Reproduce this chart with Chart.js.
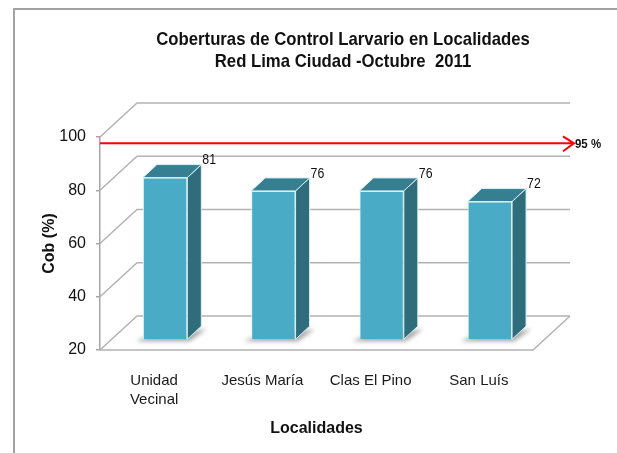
<!DOCTYPE html>
<html>
<head>
<meta charset="utf-8">
<script src="https://cdn.jsdelivr.net/npm/chart.js@4.4.1/dist/chart.umd.min.js"></script>
<style>
  body { margin: 0; background: #fff; }
  #wrap { position: relative; width: 617px; height: 453px; overflow: hidden; }
  #frame { position: absolute; left: 13px; top: 8px; right: -10px; bottom: -10px;
           border-top: 2px solid #a3a3a3; border-left: 2px solid #a3a3a3; }
  canvas { position: absolute; left: 0; top: 0; }
</style>
</head>
<body>
<div id="wrap">
  <div id="frame"></div>
  <canvas id="chart" width="617" height="453"></canvas>
</div>
<script>
// datos
const localidades = [['Unidad', 'Vecinal'], 'Jesús María', 'Clas El Pino', 'San Luís'];
const coberturas = [81, 76, 76, 72];
const yTicks = [20, 40, 60, 80, 100];
const metaValor = 95;
const metaTexto = '95 %';
const tituloLineas = ['Coberturas de Control Larvario en Localidades', 'Red Lima Ciudad -Octubre  2011'];

const FONT = '"Liberation Sans", Arial, sans-serif';
const DEPTH = { x: 37, y: -34 };    // profundidad del piso / pared del fondo
const BAR_OFF = { x: 11, y: -10 };  // las barras van un poco detrás del borde frontal
const BAR_SIDE = { x: 14, y: -13 }; // grosor 3D de cada barra
const NARROW = 0.88;                // texto "condensado" (no hay Arial Narrow)

function textoAngosto(ctx, txt, x, y) {
  ctx.save();
  ctx.translate(x, y);
  ctx.scale(NARROW, 1);
  ctx.fillText(txt, 0, 0);
  ctx.restore();
}

// pared, piso y grilla en perspectiva + caras 3D de las barras
const efecto3D = {
  id: 'efecto3D',
  beforeDatasetsDraw(chart) {
    const { ctx, chartArea: a, scales: { y } } = chart;
    ctx.save();
    ctx.strokeStyle = '#b3b3b3';
    ctx.lineWidth = 1.5;
    yTicks.forEach(v => {
      const py = y.getPixelForValue(v);
      ctx.beginPath();
      ctx.moveTo(a.left, py);
      ctx.lineTo(a.left + DEPTH.x, py + DEPTH.y);
      ctx.lineTo(a.right + DEPTH.x, py + DEPTH.y);
      ctx.stroke();
    });
    // piso
    ctx.beginPath();
    ctx.moveTo(a.left, a.bottom);
    ctx.lineTo(a.right, a.bottom);
    ctx.lineTo(a.right + DEPTH.x, a.bottom + DEPTH.y);
    ctx.stroke();

    // sombras en el piso
    const bars = chart.getDatasetMeta(0).data;
    ctx.filter = 'blur(2px)';
    ctx.fillStyle = 'rgba(0,0,0,0.35)';
    bars.forEach(bar => {
      const p = bar.getProps(['x', 'base', 'width'], true);
      const l = p.x - p.width / 2 + BAR_OFF.x;
      const r = p.x + p.width / 2 + BAR_OFF.x;
      const b = p.base + BAR_OFF.y;
      ctx.beginPath();
      ctx.moveTo(l - 7, b + 2);
      ctx.lineTo(r + 2, b + 2);
      ctx.lineTo(r + BAR_SIDE.x + 5, b + BAR_SIDE.y + 3);
      ctx.lineTo(l + 4, b - 3);
      ctx.closePath();
      ctx.fill();
    });
    ctx.filter = 'none';
    ctx.restore();

    ctx.save();
    ctx.translate(BAR_OFF.x, BAR_OFF.y);
  },
  afterDatasetsDraw(chart) {
    const { ctx } = chart;
    ctx.restore();
    const bars = chart.getDatasetMeta(0).data;
    ctx.save();
    ctx.lineWidth = 1;
    ctx.strokeStyle = '#d9eff5';
    bars.forEach((bar, i) => {
      const p = bar.getProps(['x', 'y', 'base', 'width'], true);
      const l = p.x - p.width / 2 + BAR_OFF.x;
      const r = p.x + p.width / 2 + BAR_OFF.x;
      const t = p.y + BAR_OFF.y;
      const b = p.base + BAR_OFF.y;
      // lado
      ctx.fillStyle = '#2f6d7d';
      ctx.beginPath();
      ctx.moveTo(r, t);
      ctx.lineTo(r + BAR_SIDE.x, t + BAR_SIDE.y);
      ctx.lineTo(r + BAR_SIDE.x, b + BAR_SIDE.y);
      ctx.lineTo(r, b);
      ctx.closePath();
      ctx.fill();
      ctx.stroke();
      // tapa
      ctx.fillStyle = '#367f91';
      ctx.beginPath();
      ctx.moveTo(l, t);
      ctx.lineTo(l + BAR_SIDE.x, t + BAR_SIDE.y);
      ctx.lineTo(r + BAR_SIDE.x, t + BAR_SIDE.y);
      ctx.lineTo(r, t);
      ctx.closePath();
      ctx.fill();
      ctx.stroke();
      // etiqueta de valor
      ctx.fillStyle = '#111';
      ctx.font = '14px ' + FONT;
      ctx.textAlign = 'left';
      ctx.textBaseline = 'bottom';
      textoAngosto(ctx, String(coberturas[i]), r + BAR_SIDE.x + 1, t + BAR_SIDE.y + 3);
    });
    ctx.restore();
  },
  afterDraw(chart) {
    const { ctx, chartArea: a, scales: { y } } = chart;
    ctx.save();
    // linea de meta 95 %
    const py = y.getPixelForValue(metaValor) - 7;
    const xEnd = a.right + DEPTH.x + 4;
    ctx.strokeStyle = '#ff0000';
    ctx.lineWidth = 2;
    ctx.beginPath();
    ctx.moveTo(a.left, py);
    ctx.lineTo(xEnd, py);
    ctx.moveTo(xEnd - 11, py - 7);
    ctx.lineTo(xEnd, py);
    ctx.lineTo(xEnd - 11, py + 8);
    ctx.stroke();
    ctx.fillStyle = '#111';
    ctx.font = 'bold 13px ' + FONT;
    ctx.textAlign = 'left';
    ctx.textBaseline = 'middle';
    textoAngosto(ctx, metaTexto, xEnd + 1, py + 1);

    // titulo
    ctx.font = 'bold 19px ' + FONT;
    ctx.textAlign = 'center';
    ctx.fillStyle = '#111';
    textoAngosto(ctx, tituloLineas[0], 343, 40);
    textoAngosto(ctx, tituloLineas[1], 343, 62);
    ctx.restore();
  }
};

new Chart(document.getElementById('chart'), {
  type: 'bar',
  data: {
    labels: localidades,
    datasets: [{
      data: coberturas,
      base: 20,
      backgroundColor: '#4aabc6',
      borderColor: '#d9eff5',
      borderWidth: 1,
      barPercentage: 0.5,
      categoryPercentage: 0.82
    }]
  },
  options: {
    responsive: false,
    animation: false,
    layout: { padding: { top: 137, right: 84, left: 0, bottom: 0 } },
    plugins: {
      legend: { display: false },
      tooltip: { enabled: false }
    },
    scales: {
      x: {
        grid: { display: false, drawTicks: false },
        border: { display: false },
        ticks: {
          color: '#1a1a1a',
          font: { family: FONT, size: 15, lineHeight: 1.3 },
          padding: 21,
          maxRotation: 0,
          autoSkip: false
        },
        title: {
          display: true,
          text: 'Localidades',
          color: '#111',
          font: { family: FONT, size: 16, weight: 'bold', lineHeight: 1.2 },
          padding: { top: 0, bottom: 15 }
        },
        afterFit(scale) { scale.height = 103; }
      },
      y: {
        min: 20,
        max: 100,
        afterBuildTicks(scale) { scale.ticks = yTicks.map(v => ({ value: v })); },
        grid: { display: true, drawOnChartArea: false, drawTicks: true, tickLength: 4, color: '#a6a6a6', lineWidth: 1.5 },
        border: { display: true, color: '#a6a6a6', width: 1.5 },
        ticks: {
          color: '#111',
          font: { family: FONT, size: 16 },
          padding: 10
        },
        title: {
          display: true,
          text: 'Cob (%)',
          color: '#111',
          font: { family: FONT, size: 16, weight: 'bold', lineHeight: 1.2 },
          padding: { top: 40, bottom: 0 }
        },
        afterFit(scale) { scale.width = 100; }
      }
    }
  },
  plugins: [efecto3D]
});
</script>
</body>
</html>
